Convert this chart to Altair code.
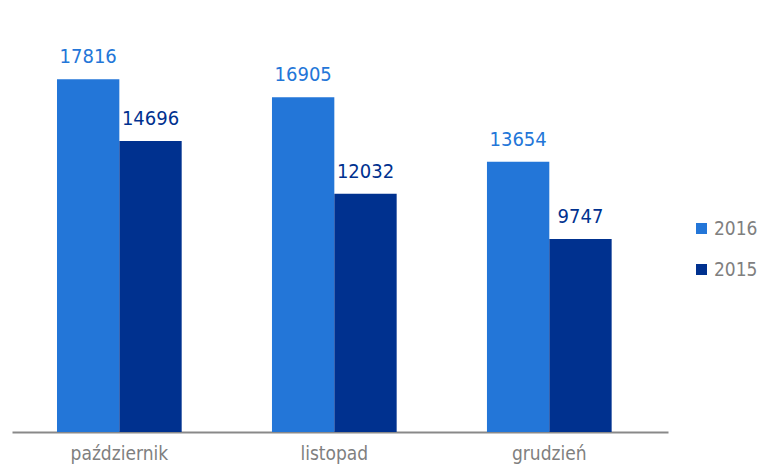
import altair as alt
import pandas as pd

months = ["październik", "listopad", "grudzień"]
series = ["2016", "2015"]
values_2016 = [17816, 16905, 13654]
values_2015 = [14696, 12032, 9747]
colors = ["#2376D8", "#00318F"]

rows = []
for i, m in enumerate(months):
    rows.append({"month": m, "year": "2016", "value": values_2016[i]})
    rows.append({"month": m, "year": "2015", "value": values_2015[i]})
df = pd.DataFrame(rows)

FONT = "DejaVu Sans Condensed, DejaVu Sans"

x = alt.X("month:N", sort=months, title=None,
          scale=alt.Scale(paddingInner=0.42, paddingOuter=0.2357, align=0.444),
          axis=alt.Axis(labelAngle=0, domainColor="#898989", domainWidth=2,
                        ticks=False, labelColor="#7F7F7F", labelFontSize=19,
                        labelFont=FONT, labelPadding=12, grid=False))
xo = alt.XOffset("year:N", sort=series, scale=alt.Scale(paddingInner=0, paddingOuter=0))
y = alt.Y("value:Q", scale=alt.Scale(domain=[0, 20000], nice=False), axis=None)
color = alt.Color("year:N", sort=series,
                  scale=alt.Scale(domain=series, range=colors))

bars = alt.Chart(df).mark_bar().encode(
    x=x, xOffset=xo, y=y,
    color=color.legend(alt.Legend(title=None, orient="none", legendX=680, legendY=183,
                                  padding=0,
                                  symbolType="square", symbolSize=121, symbolStrokeWidth=0,
                                  labelFontSize=19, labelFont=FONT, labelColor="#7F7F7F",
                                  rowPadding=21, labelOffset=3)),
)

labels = alt.Chart(df).mark_text(baseline="bottom", dy=-12, fontSize=20, font=FONT).encode(
    x=x, xOffset=xo, y=y, text=alt.Text("value:Q", format="d"),
    color=alt.Color("year:N", sort=series, scale=alt.Scale(domain=series, range=colors), legend=None),
)

chart = alt.layer(bars, labels).properties(
    width=656, height=396,
    autosize=alt.AutoSizeParams(type="none"),
    padding={"left": 4, "top": 28, "right": 89, "bottom": 33},
).configure(background="white").configure_view(stroke=None, strokeWidth=0)

chart.save("out.html", embed_options={"renderer": "svg", "actions": False})
